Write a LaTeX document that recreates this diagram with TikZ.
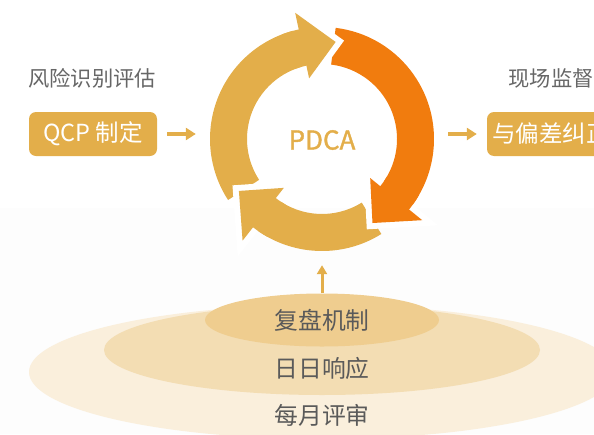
\documentclass[tikz,border=0pt]{standalone}
\usepackage{fontspec}
\newfontfamily\cjk{Noto Sans CJK SC}
\newfontfamily\cjkthick[FakeBold=1.4]{Noto Sans CJK SC}
\usetikzlibrary{arrows.meta,shapes.geometric}

\definecolor{gold}{HTML}{E3AE4A}
\definecolor{fire}{HTML}{F17C0E}
\definecolor{ink}{HTML}{5A5A5A}
\definecolor{hintgrey}{HTML}{666666}
\definecolor{ringA}{HTML}{EFCD8F}
\definecolor{ringB}{HTML}{F3DDB3}
\definecolor{ringC}{HTML}{FAEFDC}
\definecolor{haze}{HTML}{FDFDFD}

\begin{document}
\begin{tikzpicture}[x=1pt, y=-1pt, line join=round,
    hint/.style={inner sep=0pt, text=hintgrey, font=\cjk\fontsize{21.3}{25}\selectfont},
    tagbox/.style={fill=gold, rounded corners=7pt, minimum width=128pt, minimum height=44pt,
                   inner sep=0pt, text=white, font=\cjk\fontsize{23.5}{28}\selectfont},
    layertext/.style={inner sep=0pt, text=ink, font=\cjk\fontsize{23.8}{28}\selectfont},
    flow/.style={gold, line width=4pt, -{Triangle[length=10pt, width=12pt]}},
    rim/.style={white, line width=12pt, line join=miter},
  ]

  \fill[haze]  (0,208) rectangle (594,434);

  %% ════ 底部三层椭圆 ════
  \fill[ringC] (322,372) ellipse (293 and 67);
  \fill[ringB] (322,350) ellipse (218 and 45);
  \node[ellipse, fill=ringA, minimum width=234pt, minimum height=53pt, layertext] (review) at (322,320) {复盘机制};
  \node[layertext] (daily)   at (322,368) {日日响应};
  \node[layertext] (monthly) at (322,415) {每月评审};

  %% ════ PDCA 环（中心 322,139；外 112 / 内 75）════
  \node[circle, minimum size=252pt, inner sep=0pt] (ring) at (322,139) {};
  \begin{scope}[shift={(322,139)}]
    % 三段色带：尾 → 箭头底 → 箭尖
    \fill[gold] (147:112) arc[start angle=147, end angle=258, radius=112]
      -- (258:129) -- (278:98) -- (258:62) -- (258:75)
      arc[start angle=258, end angle=147, radius=75] -- cycle;
    \fill[fire] (277:112) arc[start angle=277, end angle=399, radius=112]
      -- (399:129) -- (419:98) -- (399:62) -- (399:75)
      arc[start angle=399, end angle=277, radius=75] -- cycle;
    \fill[gold] (58:112) arc[start angle=58, end angle=128, radius=112]
      -- (128:129) -- (148:98) -- (128:62) -- (128:75)
      arc[start angle=128, end angle=58, radius=75] -- cycle;

    % 箭头压住下一段的尾巴：白边 + 重铺
    \draw[rim]  (258:129) -- (278:98) -- (258:62) -- cycle;
    \fill[gold] (258:129) -- (278:98) -- (258:62) -- cycle;
    \fill[gold] (249:112) arc[start angle=249, end angle=259, radius=112]
      -- (259:75) arc[start angle=259, end angle=249, radius=75] -- cycle;

    \draw[rim]  (399:129) -- (419:98) -- (399:62) -- cycle;
    \fill[fire] (399:129) -- (419:98) -- (399:62) -- cycle;
    \fill[fire] (390:112) arc[start angle=390, end angle=400, radius=112]
      -- (400:75) arc[start angle=400, end angle=390, radius=75] -- cycle;

    \draw[rim]  (128:129) -- (148:98) -- (128:62) -- cycle;
    \fill[gold] (128:129) -- (148:98) -- (128:62) -- cycle;
    \fill[gold] (119:112) arc[start angle=119, end angle=129, radius=112]
      -- (129:75) arc[start angle=129, end angle=119, radius=75] -- cycle;
  \end{scope}
  \node[text=gold, font=\cjkthick\fontsize{26}{30}\selectfont] (pdca) at (322,140) {PDCA};

  %% ════ 左右两侧 ════
  \node[hint]   (risk)   at (92,78)  {风险识别评估};
  \node[tagbox] (qcp)    at (93,134) {QCP 制定};
  \node[hint]   (onsite) at (551,78) {现场监督};
  \node[tagbox] (fix)    at (551,134) {与偏差纠正};

  %% ════ 连线 ════
  \draw[flow, shorten <=10pt] (qcp.east) -- (qcp.east -| ring.west);
  \draw[flow, shorten >=10pt] (ring.east |- fix.west) -- (fix.west);
  \draw[flow, line width=3pt, -{Triangle[length=9pt, width=10pt]}] (review.north) -- (review.north |- ring.south);

  \pgfresetboundingbox
  \path[use as bounding box] (0,0) rectangle (594,434);
\end{tikzpicture}
\end{document}
